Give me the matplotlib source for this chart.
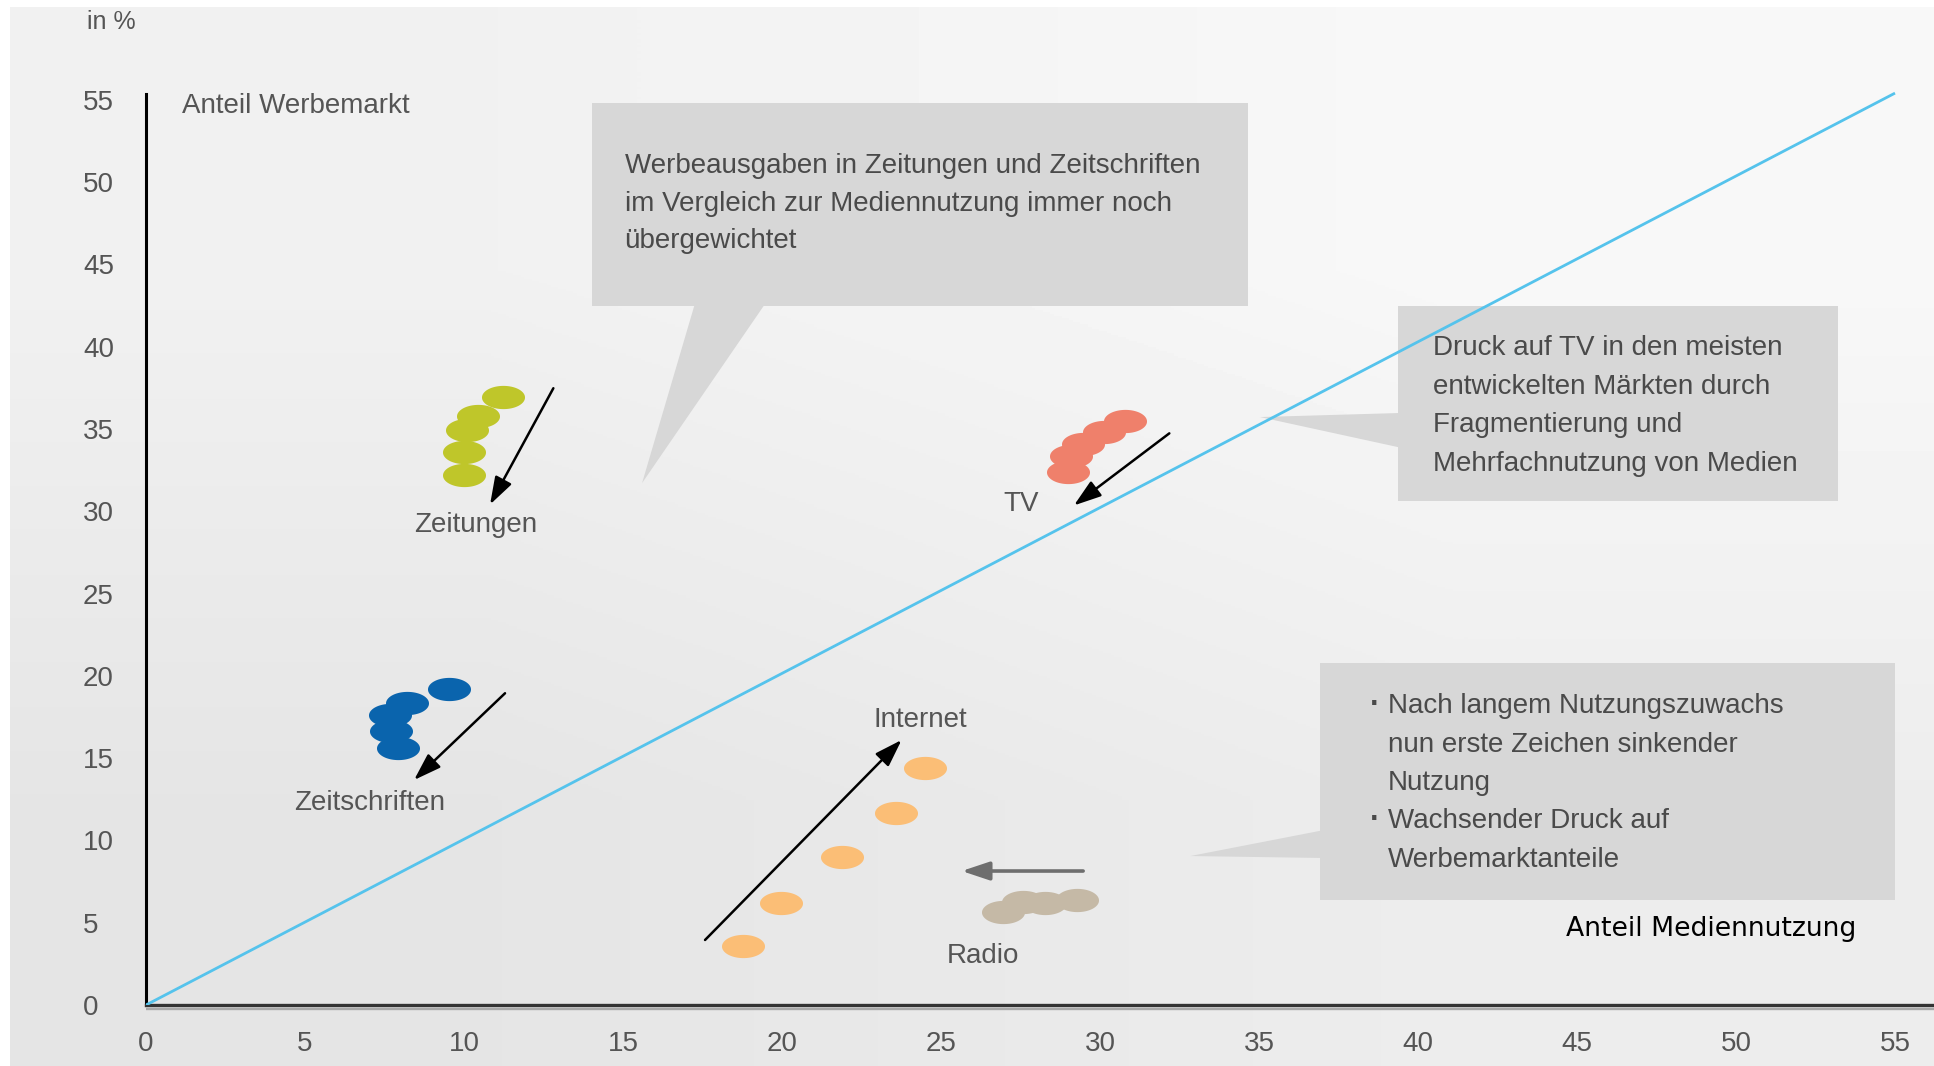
import matplotlib
matplotlib.use("Agg")
import matplotlib.pyplot as plt
import numpy as np
from matplotlib.patches import Rectangle, Polygon
from matplotlib.path import Path

# share of media usage (x) vs. share of ad market (y), in %
zeitungen_x = [11.22, 10.45, 10.09, 9.99, 9.99]
zeitungen_y = [36.96, 35.77, 34.91, 33.61, 32.22]
zeitschriften_x = [9.53, 8.20, 7.67, 7.70, 7.93]
zeitschriften_y = [19.18, 18.37, 17.62, 16.66, 15.60]
tv_x = [30.79, 30.13, 29.47, 29.08, 28.99]
tv_y = [35.50, 34.83, 34.08, 33.33, 32.36]
internet_x = [18.78, 19.97, 21.88, 23.58, 24.50]
internet_y = [3.58, 6.22, 9.01, 11.65, 14.38]
radio_x = [26.96, 27.59, 28.27, 29.27]
radio_y = [5.67, 6.28, 6.18, 6.38]

# trend arrows: (start, end)
trend_arrows = {
    "Zeitungen": ((12.81, 37.47), (10.82, 30.41)),
    "Zeitschriften": ((11.29, 18.94), (8.43, 13.67)),
    "TV": ((32.18, 34.73), (29.18, 30.35)),
    "Internet": ((17.58, 3.95), (23.76, 16.10)),
    "Radio": ((29.47, 8.14), (25.65, 8.14)),
}
label_pos = {
    "Zeitungen": (10.38, 29.15),
    "Zeitschriften": (7.04, 12.3),
    "TV": (27.52, 30.45),
    "Internet": (24.36, 17.3),
    "Radio": (26.32, 2.95),
}

diag_x = [0, 55.0]
diag_y = [0, 55.4]

ticks = list(range(0, 56, 5))

box1_text = ["Werbeausgaben in Zeitungen und Zeitschriften",
             "im Vergleich zur Mediennutzung immer noch",
             "übergewichtet"]
box2_text = ["Druck auf TV in den meisten",
             "entwickelten Märkten durch",
             "Fragmentierung und",
             "Mehrfachnutzung von Medien"]
box3_text = [("·", "Nach langem Nutzungszuwachs"),
             ("", "nun erste Zeichen sinkender"),
             ("", "Nutzung"),
             ("·", "Wachsender Druck auf"),
             ("", "Werbemarktanteile")]

W, H = 1934, 1066
fig = plt.figure(figsize=(W / 100, H / 100), dpi=100, facecolor="white")

# soft grey gradient background
bg = fig.add_axes([10 / W, 0, 1 - 10 / W, 1 - 7 / H])
grad = np.array([[0.945, 0.972], [0.898, 0.928]])
bg.imshow(grad, cmap="gray", vmin=0, vmax=1, interpolation="bilinear",
          aspect="auto", extent=[0, 1, 0, 1])
bg.set_axis_off()

x0, sx = 146, 31.8
y0, sy = 1005, 16.46
xmax = (W - x0) / sx
ytop = 56
ax = fig.add_axes([x0 / W, 1 - y0 / H, 1 - x0 / W, ytop * sy / H])
ax.set_facecolor("none")
ax.set_xlim(0, xmax)
ax.set_ylim(0, ytop)

font = "Liberation Sans"
tcol = "#555555"

for s in ["top", "right"]:
    ax.spines[s].set_visible(False)
ax.spines["left"].set_bounds(0, 55.35)
ax.spines["left"].set_linewidth(2.2)
ax.spines["left"].set_color("black")
ax.spines["bottom"].set_linewidth(2.4)
ax.spines["bottom"].set_color("#333333")
ax.plot([0, xmax], [-0.24, -0.24], color="#a8a8a8", lw=1.7, clip_on=False,
        solid_capstyle="butt")

ax.set_xticks(ticks)
ax.set_yticks(ticks)
ax.tick_params(axis="x", length=0, pad=19, labelsize=20, labelcolor=tcol)
ax.tick_params(axis="y", length=0, pad=45.4, labelsize=20, labelcolor=tcol)
for lab in ax.get_xticklabels() + ax.get_yticklabels():
    lab.set_fontfamily(font)
for lab in ax.get_yticklabels():
    lab.set_horizontalalignment("left")

# grey callout boxes
box_col = "#d7d7d7"
ax.add_patch(Rectangle((14.04, 42.47), 34.65 - 14.04, 54.80 - 42.47,
                       fc=box_col, ec="none", zorder=1))
ax.add_patch(Polygon([(17.26, 42.6), (19.47, 42.6), (15.60, 31.71)],
                     fc=box_col, ec="none", zorder=1))
ax.add_patch(Rectangle((39.37, 30.63), 53.21 - 39.37, 42.47 - 30.63,
                       fc=box_col, ec="none", zorder=1))
ax.add_patch(Polygon([(39.5, 35.97), (39.5, 33.84), (35.03, 35.72)],
                     fc=box_col, ec="none", zorder=1))
ax.add_patch(Rectangle((36.93, 6.38), 55.0 - 36.93, 20.76 - 6.38,
                       fc=box_col, ec="none", zorder=1))
ax.add_patch(Polygon([(37.05, 10.63), (37.05, 8.93), (32.84, 9.05)],
                     fc=box_col, ec="none", zorder=1))

# diagonal
ax.plot(diag_x, diag_y, color="#55c3ec", lw=2.0, zorder=3,
        solid_capstyle="butt")

# media clusters
t = np.linspace(0, 2 * np.pi, 80)
ell = Path(np.column_stack([np.cos(t), 0.54 * np.sin(t)]))
series = [
    (zeitungen_x, zeitungen_y, "#bfc62a"),
    (zeitschriften_x, zeitschriften_y, "#0a64ad"),
    (tv_x, tv_y, "#ef806b"),
    (internet_x, internet_y, "#fbbe76"),
    (radio_x, radio_y, "#c5b9a6"),
]
for xs, ys, c in series:
    ax.scatter(xs, ys, s=960, marker=ell, c=c, linewidths=0, zorder=4)

for name, (start, end) in trend_arrows.items():
    col = "#6e6e6e" if name == "Radio" else "black"
    lw = 2.6 if name == "Radio" else 1.8
    ax.annotate("", xy=end, xytext=start, zorder=5,
                arrowprops=dict(arrowstyle="-|>,head_length=0.6,head_width=0.2",
                                mutation_scale=28, color=col, lw=lw,
                                shrinkA=0, shrinkB=0))
    lx, ly = label_pos[name]
    ax.text(lx, ly, name, ha="center", va="center", fontsize=20,
            family=font, color=tcol, zorder=6)

# callout texts
for i, line in enumerate(box1_text):
    ax.text(15.05, 50.55 - i * 2.29, line, ha="left", va="baseline",
            fontsize=20, family=font, color="#4a4a4a", zorder=6)
for i, line in enumerate(box2_text):
    ax.text(40.47, 39.47 - i * 2.34, line, ha="left", va="baseline",
            fontsize=20, family=font, color="#4a4a4a", zorder=6)
for i, (bullet, line) in enumerate(box3_text):
    yy = 17.72 - i * 2.33
    if bullet:
        ax.text(38.5, yy, bullet, ha="left", va="baseline", fontsize=22,
                family=font, color="#4a4a4a", zorder=6, fontweight="bold")
    ax.text(39.06, yy, line, ha="left", va="baseline",
            fontsize=20, family=font, color="#4a4a4a", zorder=6)

ax.text(1.13, 54.6, "Anteil Werbemarkt", ha="left", va="center",
        fontsize=20, family=font, color=tcol)
ax.text(53.79, 4.19, "Anteil Mediennutzung", ha="right", va="baseline",
        fontsize=19.2, family="DejaVu Sans", color="black")
fig.text(87 / W, 1 - 22 / H, "in %", ha="left", va="center",
         fontsize=18, family=font, color=tcol)

fig.savefig("out.png", dpi=100, facecolor=fig.get_facecolor())
